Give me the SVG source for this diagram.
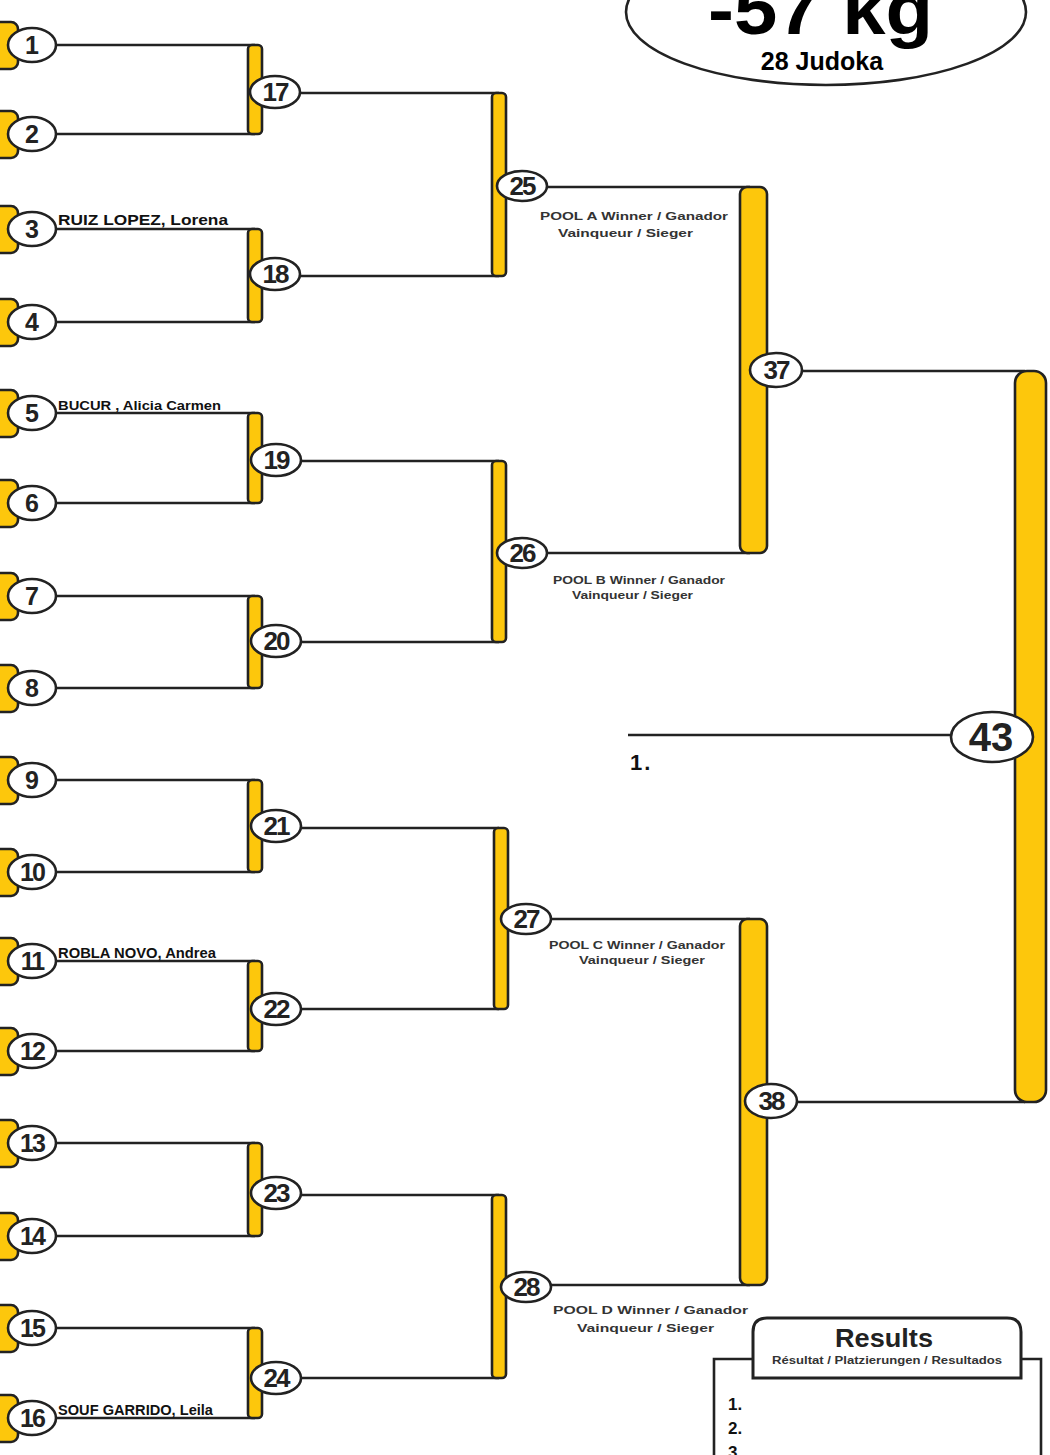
<svg xmlns="http://www.w3.org/2000/svg" width="1050" height="1455" viewBox="0 0 1050 1455">
<style>
.ln{fill:none;stroke:#222;stroke-width:2.6}
.bar{fill:#FDC70C;stroke:#222;stroke-width:2.6}
.nd{fill:#fff;stroke:#222;stroke-width:2.6}
.num{font-family:"Liberation Sans",Arial,sans-serif;font-weight:bold;fill:#222;text-anchor:middle}
.nm{font-family:"Liberation Sans",Arial,sans-serif;font-weight:bold;fill:#111}
.pool{font-family:"Liberation Sans",Arial,sans-serif;font-weight:900;font-size:11px;fill:#333}
</style>
<rect width="1050" height="1455" fill="#fff"/>
<g id="header">
<ellipse cx="826" cy="12" rx="200" ry="73" class="nd"/>
<text x="708" y="34" font-family="Liberation Sans,Arial,sans-serif" font-weight="bold" font-size="72" fill="#000" textLength="225" lengthAdjust="spacingAndGlyphs">-57 kg</text>
<text x="822" y="70" text-anchor="middle" font-family="Liberation Sans,Arial,sans-serif" font-weight="bold" font-size="25" fill="#000">28 Judoka</text>
</g>
<g id="connectors">
<path class="ln" d="M56,45H255M56,134H255M56,229H255M56,322H255M56,413H255M56,503H255M56,596H255M56,688H255M56,780H255M56,872H255M56,961H255M56,1051H255M56,1143H255M56,1236H255M56,1328H255M56,1418H255"/>
<path class="ln" d="M300,93H499M300,276H499M300,461H499M300,642H499M300,828H499M300,1009H499M300,1195H499M300,1378H499"/>
<path class="ln" d="M547,187H750M547,553H750M550,919H750M550,1285H750"/>
<path class="ln" d="M802,371H1025M797,1102H1025"/>
<path class="ln" d="M628,735H951"/>
</g>
<g id="n1"><rect x="-14" y="22" width="32" height="47" rx="7" class="bar"/><ellipse cx="32" cy="45" rx="24" ry="17" class="nd"/><text x="32" y="54" class="num" font-size="25">1</text></g>
<g id="n2"><rect x="-14" y="111" width="32" height="47" rx="7" class="bar"/><ellipse cx="32" cy="134" rx="24" ry="17" class="nd"/><text x="32" y="143" class="num" font-size="25">2</text></g>
<g id="n3"><rect x="-14" y="206" width="32" height="47" rx="7" class="bar"/><ellipse cx="32" cy="229" rx="24" ry="17" class="nd"/><text x="32" y="238" class="num" font-size="25">3</text><text x="58" y="225" class="nm" font-size="15" textLength="170" lengthAdjust="spacingAndGlyphs">RUIZ LOPEZ, Lorena</text></g>
<g id="n4"><rect x="-14" y="299" width="32" height="47" rx="7" class="bar"/><ellipse cx="32" cy="322" rx="24" ry="17" class="nd"/><text x="32" y="331" class="num" font-size="25">4</text></g>
<g id="n5"><rect x="-14" y="390" width="32" height="47" rx="7" class="bar"/><ellipse cx="32" cy="413" rx="24" ry="17" class="nd"/><text x="32" y="422" class="num" font-size="25">5</text><text x="58" y="410" class="nm" font-size="13.5" textLength="163" lengthAdjust="spacingAndGlyphs">BUCUR , Alicia Carmen</text></g>
<g id="n6"><rect x="-14" y="480" width="32" height="47" rx="7" class="bar"/><ellipse cx="32" cy="503" rx="24" ry="17" class="nd"/><text x="32" y="512" class="num" font-size="25">6</text></g>
<g id="n7"><rect x="-14" y="573" width="32" height="47" rx="7" class="bar"/><ellipse cx="32" cy="596" rx="24" ry="17" class="nd"/><text x="32" y="605" class="num" font-size="25">7</text></g>
<g id="n8"><rect x="-14" y="665" width="32" height="47" rx="7" class="bar"/><ellipse cx="32" cy="688" rx="24" ry="17" class="nd"/><text x="32" y="697" class="num" font-size="25">8</text></g>
<g id="n9"><rect x="-14" y="757" width="32" height="47" rx="7" class="bar"/><ellipse cx="32" cy="780" rx="24" ry="17" class="nd"/><text x="32" y="789" class="num" font-size="25">9</text></g>
<g id="n10"><rect x="-14" y="849" width="32" height="47" rx="7" class="bar"/><ellipse cx="32" cy="872" rx="24" ry="17" class="nd"/><text x="32" y="881" class="num" font-size="25" letter-spacing="-2">10</text></g>
<g id="n11"><rect x="-14" y="938" width="32" height="47" rx="7" class="bar"/><ellipse cx="32" cy="961" rx="24" ry="17" class="nd"/><text x="32" y="970" class="num" font-size="25" letter-spacing="-2">11</text><text x="58" y="958" class="nm" font-size="14" textLength="158" lengthAdjust="spacingAndGlyphs">ROBLA NOVO, Andrea</text></g>
<g id="n12"><rect x="-14" y="1028" width="32" height="47" rx="7" class="bar"/><ellipse cx="32" cy="1051" rx="24" ry="17" class="nd"/><text x="32" y="1060" class="num" font-size="25" letter-spacing="-2">12</text></g>
<g id="n13"><rect x="-14" y="1120" width="32" height="47" rx="7" class="bar"/><ellipse cx="32" cy="1143" rx="24" ry="17" class="nd"/><text x="32" y="1152" class="num" font-size="25" letter-spacing="-2">13</text></g>
<g id="n14"><rect x="-14" y="1213" width="32" height="47" rx="7" class="bar"/><ellipse cx="32" cy="1236" rx="24" ry="17" class="nd"/><text x="32" y="1245" class="num" font-size="25" letter-spacing="-2">14</text></g>
<g id="n15"><rect x="-14" y="1305" width="32" height="47" rx="7" class="bar"/><ellipse cx="32" cy="1328" rx="24" ry="17" class="nd"/><text x="32" y="1337" class="num" font-size="25" letter-spacing="-2">15</text></g>
<g id="n16"><rect x="-14" y="1395" width="32" height="47" rx="7" class="bar"/><ellipse cx="32" cy="1418" rx="24" ry="17" class="nd"/><text x="32" y="1427" class="num" font-size="25" letter-spacing="-2">16</text><text x="58" y="1415" class="nm" font-size="14.5" textLength="155" lengthAdjust="spacingAndGlyphs">SOUF GARRIDO, Leila</text></g>
<g id="n17"><rect x="248" y="45" width="14" height="89" rx="4" class="bar"/><ellipse cx="275" cy="92" rx="25" ry="16" class="nd"/><text x="275" y="101" class="num" font-size="26" letter-spacing="-2">17</text></g>
<g id="n18"><rect x="248" y="229" width="14" height="93" rx="4" class="bar"/><ellipse cx="275" cy="274" rx="25" ry="16" class="nd"/><text x="275" y="283" class="num" font-size="26" letter-spacing="-2">18</text></g>
<g id="n19"><rect x="248" y="413" width="14" height="90" rx="4" class="bar"/><ellipse cx="276" cy="460" rx="25" ry="16" class="nd"/><text x="276" y="469" class="num" font-size="26" letter-spacing="-2">19</text></g>
<g id="n20"><rect x="248" y="596" width="14" height="92" rx="4" class="bar"/><ellipse cx="276" cy="641" rx="25" ry="16" class="nd"/><text x="276" y="650" class="num" font-size="26" letter-spacing="-2">20</text></g>
<g id="n21"><rect x="248" y="780" width="14" height="92" rx="4" class="bar"/><ellipse cx="276" cy="826" rx="25" ry="16" class="nd"/><text x="276" y="835" class="num" font-size="26" letter-spacing="-2">21</text></g>
<g id="n22"><rect x="248" y="961" width="14" height="90" rx="4" class="bar"/><ellipse cx="276" cy="1009" rx="25" ry="16" class="nd"/><text x="276" y="1018" class="num" font-size="26" letter-spacing="-2">22</text></g>
<g id="n23"><rect x="248" y="1143" width="14" height="93" rx="4" class="bar"/><ellipse cx="276" cy="1193" rx="25" ry="16" class="nd"/><text x="276" y="1202" class="num" font-size="26" letter-spacing="-2">23</text></g>
<g id="n24"><rect x="248" y="1328" width="14" height="90" rx="4" class="bar"/><ellipse cx="276" cy="1378" rx="25" ry="16" class="nd"/><text x="276" y="1387" class="num" font-size="26" letter-spacing="-2">24</text></g>
<g id="n25"><rect x="492" y="93" width="14" height="183" rx="4" class="bar"/><ellipse cx="522" cy="186" rx="25" ry="15" class="nd"/><text x="522" y="195" class="num" font-size="26" letter-spacing="-2">25</text>
<text x="540" y="220" class="pool" textLength="188" lengthAdjust="spacingAndGlyphs">POOL A Winner / Ganador</text><text x="558" y="237" class="pool" textLength="135" lengthAdjust="spacingAndGlyphs">Vainqueur / Sieger</text></g>
<g id="n26"><rect x="492" y="461" width="14" height="181" rx="4" class="bar"/><ellipse cx="522" cy="553" rx="25" ry="15" class="nd"/><text x="522" y="562" class="num" font-size="26" letter-spacing="-2">26</text>
<text x="553" y="584" class="pool" textLength="172" lengthAdjust="spacingAndGlyphs">POOL B Winner / Ganador</text><text x="572" y="599" class="pool" textLength="121" lengthAdjust="spacingAndGlyphs">Vainqueur / Sieger</text></g>
<g id="n27"><rect x="494" y="828" width="14" height="181" rx="4" class="bar"/><ellipse cx="526" cy="919" rx="25" ry="15" class="nd"/><text x="526" y="928" class="num" font-size="26" letter-spacing="-2">27</text>
<text x="549" y="949" class="pool" textLength="176" lengthAdjust="spacingAndGlyphs">POOL C Winner / Ganador</text><text x="579" y="964" class="pool" textLength="126" lengthAdjust="spacingAndGlyphs">Vainqueur / Sieger</text></g>
<g id="n28"><rect x="492" y="1195" width="14" height="183" rx="4" class="bar"/><ellipse cx="526" cy="1287" rx="25" ry="15" class="nd"/><text x="526" y="1296" class="num" font-size="26" letter-spacing="-2">28</text>
<text x="553" y="1314" class="pool" textLength="195" lengthAdjust="spacingAndGlyphs">POOL D Winner / Ganador</text><text x="577" y="1332" class="pool" textLength="137" lengthAdjust="spacingAndGlyphs">Vainqueur / Sieger</text></g>
<g id="n37"><rect x="740" y="187" width="27" height="366" rx="7" class="bar"/><ellipse cx="776" cy="370" rx="26" ry="17" class="nd"/><text x="776" y="379" class="num" font-size="26" letter-spacing="-2">37</text></g>
<g id="n38"><rect x="740" y="919" width="27" height="366" rx="7" class="bar"/><ellipse cx="771" cy="1101" rx="26" ry="17" class="nd"/><text x="771" y="1110" class="num" font-size="26" letter-spacing="-2">38</text></g>
<g id="n43"><rect x="1015" y="371" width="31" height="731" rx="12" class="bar"/><ellipse cx="992" cy="737" rx="41" ry="25" class="nd"/><text x="991" y="751" class="num" font-size="40">43</text>
<text x="630" y="770" class="nm" font-size="22" letter-spacing="2">1.</text></g>
<g id="results">
<path class="ln" stroke-width="3" d="M714,1465V1359H1041V1465"/>
<path d="M753,1378V1332Q753,1318 767,1318H1007Q1021,1318 1021,1332V1378Z" fill="#fff" stroke="#222" stroke-width="3"/>
<text x="884" y="1347" class="num" font-size="25" font-weight="900" textLength="98" lengthAdjust="spacingAndGlyphs">Results</text>
<text x="887" y="1364" class="pool" font-size="9" text-anchor="middle" textLength="230" lengthAdjust="spacingAndGlyphs">Résultat / Platzierungen / Resultados</text>
<text x="728" y="1410" class="nm" font-size="17">1.</text>
<text x="728" y="1434" class="nm" font-size="17">2.</text>
<text x="728" y="1458" class="nm" font-size="17">3.</text>
</g>
</svg>
